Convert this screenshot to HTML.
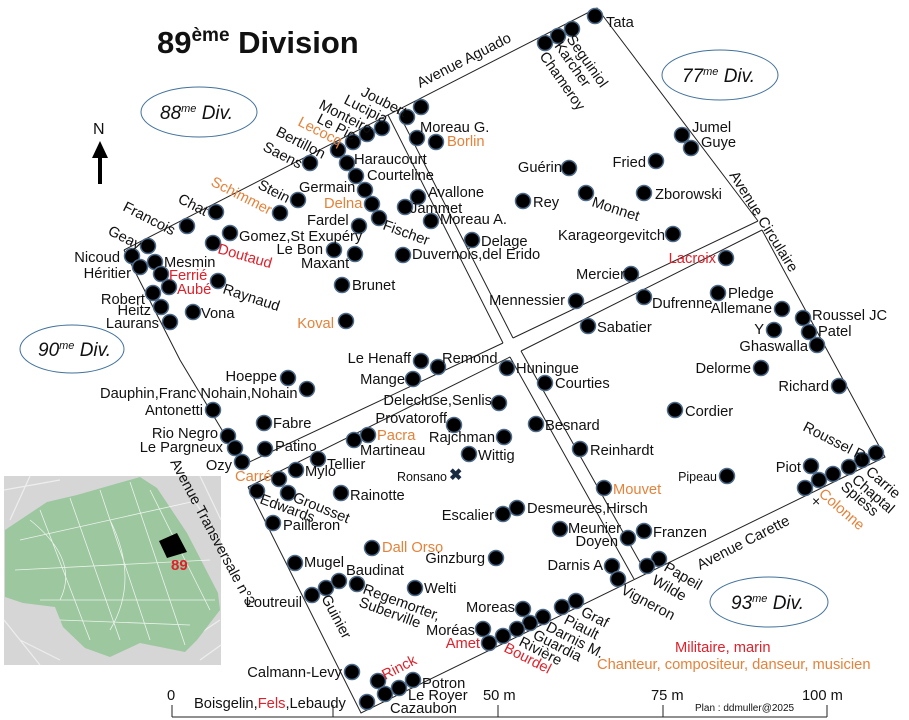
<!DOCTYPE html>
<html><head><meta charset="utf-8"><style>
html,body{margin:0;padding:0;background:#fff}
svg{display:block}
text{font-family:"Liberation Sans",Arial,sans-serif;font-size:14.7px;fill:#111}
.o{fill:#e5823a}.r{fill:#e0202a}
.d{fill:#000;stroke:#4d6a8a;stroke-width:1.5}
.l{stroke:#222;stroke-width:1;fill:none}
.rt{text-anchor:end}
</style></head><body>
<svg width="909" height="720" viewBox="0 0 909 720" xmlns="http://www.w3.org/2000/svg">
<rect width="909" height="720" fill="#fff"/>
<text x="157" y="53" style="font-size:31px;font-weight:bold">89<tspan dy="-12" style="font-size:19px">ème</tspan><tspan dy="12"> Division</tspan></text>
<text x="93" y="134" style="font-size:16px">N</text>
<rect x="98" y="154" width="4" height="30" fill="#000"/>
<polygon points="92,158 100,141 108,158" fill="#000"/>
<g fill="none" stroke="#41719c" stroke-width="1">
<ellipse cx="199" cy="112" rx="58" ry="25"/>
<ellipse cx="720" cy="75" rx="58" ry="25"/>
<ellipse cx="72" cy="349" rx="52" ry="24"/>
<ellipse cx="769" cy="602" rx="59" ry="25"/>
</g>
<text x="160" y="119" style="font-style:italic;font-size:19px">88<tspan dy="-7" style="font-size:11px">me</tspan><tspan dy="7"> Div.</tspan></text>
<text x="682" y="82" style="font-style:italic;font-size:19px">77<tspan dy="-7" style="font-size:11px">me</tspan><tspan dy="7"> Div.</tspan></text>
<text x="38" y="356" style="font-style:italic;font-size:19px">90<tspan dy="-7" style="font-size:11px">me</tspan><tspan dy="7"> Div.</tspan></text>
<text x="731" y="609" style="font-style:italic;font-size:19px">93<tspan dy="-7" style="font-size:11px">me</tspan><tspan dy="7"> Div.</tspan></text>
<rect x="4" y="476" width="217" height="189" fill="#d6d6d6"/>
<g stroke="#eee" stroke-width="1.2" fill="none"><path d="M4,490 L60,480 M10,520 L30,476 M4,620 L40,665 M20,640 L60,660 M190,640 L220,620 M200,660 L221,645 M180,480 L221,540 M200,476 L221,520"/></g>
<polygon points="5,530 47,502 77,495 140,477 157,488 187,533 218,593 220,610 197,640 185,652 140,643 110,657 85,648 63,627 55,607 23,603 5,597" fill="#9cc79f"/>
<g stroke="#fff" stroke-width="0.8" fill="none" opacity="0.8">
<path d="M40,510 L90,640 M70,498 L120,640 M100,490 L150,640 M130,482 L185,645 M20,540 L200,500 M15,570 L210,560 M40,600 L215,600 M60,620 L190,625 M150,490 L210,610 M30,520 Q80,560 60,600 M110,520 Q140,580 110,630"/>
</g>
<polygon points="159,541 177,533 187,552 167,558" fill="#000"/>
<text x="171" y="570" style="font-size:15px;font-weight:bold;fill:#e0202a">89</text>
<g class="l">
<path d="M124,250 L597,8 L758,221"/>
<path d="M762,230 L885,457 L361,713 L248,487"/>
<path d="M243,465 L180,360 L124,250"/>
<path d="M243,465 L503,343 M513,338 L758,221"/>
<path d="M248,487 L510,357 M521,351 L762,230"/>
<path d="M388,115 L503,343 M510,357 L634,579"/>
<path d="M397,110 L513,338 M521,351 L646,573"/>
</g>
<g class="d">
<circle cx="595" cy="16" r="7.5"/><circle cx="572" cy="29" r="7.5"/><circle cx="558" cy="36" r="7.5"/><circle cx="545" cy="43" r="7.5"/>
<circle cx="421" cy="107" r="7.5"/><circle cx="407" cy="117" r="7.5"/><circle cx="382" cy="128" r="7.5"/><circle cx="367" cy="134" r="7.5"/><circle cx="353" cy="142" r="7.5"/><circle cx="338" cy="150" r="7.5"/><circle cx="310" cy="163" r="7.5"/>
<circle cx="347" cy="163" r="7.5"/><circle cx="356" cy="176" r="7.5"/><circle cx="365" cy="190" r="7.5"/><circle cx="372" cy="204" r="7.5"/><circle cx="379" cy="218" r="7.5"/>
<circle cx="298" cy="200" r="7.5"/><circle cx="280" cy="213" r="7.5"/><circle cx="216" cy="212" r="7.5"/><circle cx="187" cy="226" r="7.5"/><circle cx="148" cy="246" r="7.5"/>
<circle cx="132" cy="256" r="7.5"/><circle cx="140" cy="267" r="7.5"/><circle cx="155" cy="262" r="7.5"/><circle cx="161" cy="274" r="7.5"/><circle cx="169" cy="287" r="7.5"/>
<circle cx="153" cy="293" r="7.5"/><circle cx="161" cy="307" r="7.5"/><circle cx="170" cy="322" r="7.5"/><circle cx="193" cy="312" r="7.5"/><circle cx="218" cy="281" r="7.5"/>
<circle cx="213" cy="243" r="7.5"/><circle cx="230" cy="233" r="7.5"/><circle cx="359" cy="226" r="7.5"/><circle cx="334" cy="250" r="7.5"/><circle cx="355" cy="254" r="7.5"/>
<circle cx="403" cy="255" r="7.5"/><circle cx="342" cy="285" r="7.5"/><circle cx="346" cy="321" r="7.5"/><circle cx="417" cy="138" r="7.5"/><circle cx="436" cy="142" r="7.5"/>
<circle cx="418" cy="197" r="7.5"/><circle cx="405" cy="207" r="7.5"/><circle cx="431" cy="221" r="7.5"/>
<circle cx="682" cy="135" r="7.5"/><circle cx="691" cy="148" r="7.5"/><circle cx="656" cy="161" r="7.5"/><circle cx="569" cy="168" r="7.5"/><circle cx="586" cy="193" r="7.5"/>
<circle cx="644" cy="193" r="7.5"/><circle cx="523" cy="201" r="7.5"/><circle cx="472" cy="240" r="7.5"/><circle cx="673" cy="234" r="7.5"/><circle cx="726" cy="258" r="7.5"/>
<circle cx="631" cy="274" r="7.5"/><circle cx="576" cy="301" r="7.5"/><circle cx="644" cy="297" r="7.5"/><circle cx="718" cy="293" r="7.5"/><circle cx="782" cy="309" r="7.5"/>
<circle cx="774" cy="330" r="7.5"/><circle cx="803" cy="318" r="7.5"/><circle cx="809" cy="332" r="7.5"/><circle cx="817" cy="345" r="7.5"/><circle cx="588" cy="326" r="7.5"/>
<circle cx="288" cy="378" r="7.5"/><circle cx="307" cy="389" r="7.5"/><circle cx="213" cy="410" r="7.5"/><circle cx="264" cy="423" r="7.5"/><circle cx="228" cy="436" r="7.5"/>
<circle cx="235" cy="448" r="7.5"/><circle cx="242" cy="462" r="7.5"/><circle cx="265" cy="449" r="7.5"/><circle cx="279" cy="479" r="7.5"/><circle cx="296" cy="470" r="7.5"/>
<circle cx="318" cy="459" r="7.5"/><circle cx="257" cy="491" r="7.5"/><circle cx="288" cy="493" r="7.5"/><circle cx="341" cy="493" r="7.5"/><circle cx="273" cy="523" r="7.5"/>
<circle cx="372" cy="548" r="7.5"/><circle cx="295" cy="563" r="7.5"/><circle cx="312" cy="595" r="7.5"/><circle cx="326" cy="588" r="7.5"/><circle cx="339" cy="581" r="7.5"/>
<circle cx="357" cy="584" r="7.5"/><circle cx="415" cy="588" r="7.5"/><circle cx="352" cy="672" r="7.5"/><circle cx="378" cy="681" r="7.5"/><circle cx="385" cy="694" r="7.5"/>
<circle cx="399" cy="688" r="7.5"/><circle cx="413" cy="680" r="7.5"/><circle cx="367" cy="702" r="7.5"/>
<circle cx="421" cy="361" r="7.5"/><circle cx="438" cy="367" r="7.5"/><circle cx="413" cy="379" r="7.5"/><circle cx="507" cy="368" r="7.5"/><circle cx="545" cy="383" r="7.5"/>
<circle cx="499" cy="403" r="7.5"/><circle cx="454" cy="425" r="7.5"/><circle cx="536" cy="424" r="7.5"/><circle cx="504" cy="437" r="7.5"/><circle cx="469" cy="454" r="7.5"/>
<circle cx="580" cy="449" r="7.5"/><circle cx="604" cy="488" r="7.5"/><circle cx="517" cy="508" r="7.5"/><circle cx="503" cy="514" r="7.5"/><circle cx="560" cy="529" r="7.5"/>
<circle cx="628" cy="538" r="7.5"/><circle cx="644" cy="531" r="7.5"/><circle cx="496" cy="558" r="7.5"/><circle cx="612" cy="566" r="7.5"/><circle cx="618" cy="579" r="7.5"/>
<circle cx="354" cy="440" r="7.5"/><circle cx="368" cy="435" r="7.5"/>
<circle cx="675" cy="410" r="7.5"/><circle cx="761" cy="368" r="7.5"/><circle cx="839" cy="386" r="7.5"/><circle cx="727" cy="476" r="7.5"/><circle cx="811" cy="466" r="7.5"/>
<circle cx="876" cy="453" r="7.5"/><circle cx="862" cy="460" r="7.5"/><circle cx="849" cy="467" r="7.5"/><circle cx="833" cy="474" r="7.5"/><circle cx="819" cy="480" r="7.5"/><circle cx="805" cy="488" r="7.5"/>
<circle cx="659" cy="559" r="7.5"/><circle cx="647" cy="566" r="7.5"/>
<circle cx="576" cy="601" r="7.5"/><circle cx="562" cy="607" r="7.5"/><circle cx="543" cy="617" r="7.5"/><circle cx="530" cy="623" r="7.5"/><circle cx="517" cy="629" r="7.5"/>
<circle cx="503" cy="636" r="7.5"/><circle cx="489" cy="643" r="7.5"/><circle cx="523" cy="609" r="7.5"/><circle cx="483" cy="629" r="7.5"/>
</g>
<text x="449" y="480" style="font-size:16px;font-weight:bold;fill:#1a2a40">✖</text>
<text x="812" y="506" style="font-size:14px">×</text>
<text transform="rotate(27 360 95)" x="360" y="95">Joubert</text>
<text transform="rotate(27 343 103)" x="343" y="103">Lucipia</text>
<text transform="rotate(27 318 108)" x="318" y="108">Monteiro</text>
<text transform="rotate(27 316 122)" x="316" y="122">Le Pic</text>
<text class="o" transform="rotate(27 297 125)" x="297" y="125">Lecocq</text>
<text transform="rotate(27 275 135)" x="275" y="135">Bertillon</text>
<text transform="rotate(27 262 150)" x="262" y="150">Saens</text>
<text transform="rotate(27 257 188)" x="257" y="188">Stein</text>
<text class="o" transform="rotate(27 210 185)" x="210" y="185">Schimmer</text>
<text transform="rotate(27 177 202)" x="177" y="202">Chat</text>
<text transform="rotate(27 122 210)" x="122" y="210">Francois</text>
<text transform="rotate(27 107 234)" x="107" y="234">Geay</text>
<text transform="rotate(55 566 39)" x="566" y="39">Seguiniol</text>
<text transform="rotate(55 554 46)" x="554" y="46">Karcher</text>
<text transform="rotate(55 539 56)" x="539" y="56">Chameroy</text>
<text transform="rotate(58 729 175)" x="729" y="175">Avenue Circulaire</text>
<text transform="rotate(62 170 462)" x="170" y="462">Avenue Transversale n°3</text>
<text transform="rotate(62 321 598)" x="321" y="598">Guinier</text>
<text transform="rotate(-27 420 88)" x="420" y="88">Avenue Aguado</text>
<text transform="rotate(-27 700 570)" x="700" y="570">Avenue Carette</text>
<text class="r" transform="rotate(-27 385 680)" x="385" y="680">Rinck</text>
<text transform="rotate(27 802 430)" x="802" y="430">Roussel R</text>
<text transform="rotate(41 865 473)" x="865" y="473">Carrie</text>
<text transform="rotate(41 851 481)" x="851" y="481">Chaptal</text>
<text transform="rotate(41 840 488)" x="840" y="488">Spiess</text>
<text class="o" transform="rotate(41 818 495)" x="818" y="495">Colonne</text>
<text transform="rotate(27 580 615)" x="580" y="615">Graf</text>
<text transform="rotate(27 563 623)" x="563" y="623">Piault</text>
<text transform="rotate(27 545 630)" x="545" y="630">Darnis M.</text>
<text transform="rotate(27 532 638)" x="532" y="638">Guardia</text>
<text transform="rotate(27 518 645)" x="518" y="645">Rivière</text>
<text class="r" transform="rotate(27 503 651)" x="503" y="651">Bourdel</text>
<text transform="rotate(28 620 593)" x="620" y="593">Vigneron</text>
<text transform="rotate(30 663 570)" x="663" y="570">Papeil</text>
<text transform="rotate(30 651 583)" x="651" y="583">Wilde</text>
<text transform="rotate(18 591 206)" x="591" y="206">Monnet</text>
<text transform="rotate(20 382 229)" x="382" y="229">Fischer</text>
<text class="r" transform="rotate(16 217 253)" x="217" y="253">Doutaud</text>
<text transform="rotate(18 222 293)" x="222" y="293">Raynaud</text>
<text transform="rotate(20 259 503)" x="259" y="503">Edwards</text>
<text transform="rotate(22 292 501)" x="292" y="501">Grousset</text>
<text transform="rotate(20 362 593)" x="362" y="593">Regemorter,</text>
<text transform="rotate(20 358 606)" x="358" y="606">Suberville</text>
<text x="606" y="27">Tata</text>
<text x="692" y="132">Jumel</text>
<text x="701" y="147">Guye</text>
<text class="rt" x="646" y="167">Fried</text>
<text class="rt" x="562" y="172">Guérin</text>
<text x="655" y="199">Zborowski</text>
<text x="533" y="207">Rey</text>
<text x="481" y="246">Delage</text>
<text x="412" y="259">Duvernois,del Erido</text>
<text class="rt" x="665" y="240">Karageorgevitch</text>
<text class="rt r" x="716" y="263">Lacroix</text>
<text class="rt" x="625" y="279">Mercier</text>
<text class="rt" x="565" y="305">Mennessier</text>
<text x="652" y="308">Dufrenne</text>
<text x="728" y="298">Pledge</text>
<text class="rt" x="772" y="313">Allemane</text>
<text class="rt" x="764" y="334">Y</text>
<text x="812" y="320">Roussel JC</text>
<text x="818" y="336">Patel</text>
<text class="rt" x="808" y="351">Ghaswalla</text>
<text x="597" y="332">Sabatier</text>
<text x="420" y="132">Moreau G.</text>
<text class="o" x="447" y="146">Borlin</text>
<text x="354" y="164">Haraucourt</text>
<text x="367" y="180">Courteline</text>
<text x="299" y="192">Germain</text>
<text class="o" x="324" y="208">Delna</text>
<text x="307" y="225">Fardel</text>
<text x="428" y="197">Avallone</text>
<text x="410" y="213">Jammet</text>
<text x="440" y="224">Moreau A.</text>
<text x="239" y="241">Gomez,St Exupéry</text>
<text class="rt" x="323" y="254">Le Bon</text>
<text x="301" y="268">Maxant</text>
<text x="352" y="290">Brunet</text>
<text class="rt o" x="334" y="328">Koval</text>
<text x="164" y="267">Mesmin</text>
<text class="r" x="169" y="280">Ferrié</text>
<text class="r" x="177" y="294">Aubé</text>
<text x="201" y="318">Vona</text>
<text class="rt" x="120" y="262">Nicoud</text>
<text class="rt" x="131" y="278">Héritier</text>
<text class="rt" x="145" y="304">Robert</text>
<text class="rt" x="151" y="315">Heitz</text>
<text class="rt" x="159" y="328">Laurans</text>
<text class="rt" x="277" y="381">Hoeppe</text>
<text x="100" y="398">Dauphin,Franc Nohain,Nohain</text>
<text class="rt" x="203" y="415">Antonetti</text>
<text x="273" y="428">Fabre</text>
<text class="rt" x="218" y="438">Rio Negro</text>
<text class="rt" x="223" y="452">Le Pargneux</text>
<text class="rt" x="232" y="470">Ozy</text>
<text x="275" y="451">Patino</text>
<text class="o" x="235" y="481">Carré</text>
<text x="327" y="469">Tellier</text>
<text x="305" y="476">Mylo</text>
<text x="350" y="500">Rainotte</text>
<text x="283" y="530">Pailleron</text>
<text class="o" x="382" y="552">Dall Orso</text>
<text x="304" y="567">Mugel</text>
<text x="346" y="575">Baudinat</text>
<text class="rt" x="302" y="607">Loutreuil</text>
<text x="424" y="593">Welti</text>
<text class="rt" x="342" y="677">Calmann-Levy</text>
<text x="422" y="688">Potron</text>
<text x="408" y="700">Le Royer</text>
<text x="390" y="713">Cazaubon</text>
<text x="194" y="708">Boisgelin,<tspan class="r">Fels</tspan>,Lebaudy</text>
<text class="rt" x="411" y="363">Le Henaff</text>
<text x="442" y="363">Remond</text>
<text class="rt" x="405" y="384">Mange</text>
<text x="516" y="373">Huningue</text>
<text x="555" y="388">Courties</text>
<text class="rt" x="492" y="405">Delecluse,Senlis</text>
<text class="rt" x="447" y="423">Provatoroff</text>
<text x="545" y="430">Besnard</text>
<text class="rt" x="495" y="442">Rajchman</text>
<text x="478" y="460">Wittig</text>
<text x="360" y="455">Martineau</text>
<text class="o" x="377" y="440">Pacra</text>
<text class="rt" x="447" y="481" style="font-size:12.5px">Ronsano</text>
<text x="590" y="455">Reinhardt</text>
<text class="o" x="613" y="494">Mouvet</text>
<text x="527" y="513">Desmeures,Hirsch</text>
<text class="rt" x="494" y="520">Escalier</text>
<text x="568" y="533">Meunier</text>
<text class="rt" x="618" y="546">Doyen</text>
<text x="653" y="537">Franzen</text>
<text class="rt" x="485" y="563">Ginzburg</text>
<text class="rt" x="603" y="570">Darnis A</text>
<text x="685" y="416">Cordier</text>
<text class="rt" x="751" y="373">Delorme</text>
<text class="rt" x="829" y="391">Richard</text>
<text class="rt" x="717" y="481" style="font-size:12.5px">Pipeau</text>
<text class="rt" x="801" y="472">Piot</text>
<text class="rt" x="515" y="612">Moreas</text>
<text class="rt" x="475" y="635">Moréas</text>
<text class="rt r" x="480" y="648">Amet</text>
<text class="r" x="675" y="652">Militaire, marin</text>
<text class="o" x="597" y="669">Chanteur, compositeur, danseur, musicien</text>
<g class="l"><path d="M172,717 L827,717 M172,705 L172,717 M333,705 L333,717 M498,705 L498,717 M663,705 L663,717 M827,705 L827,717"/></g>
<text x="167" y="700">0</text>
<text x="483" y="700">50 m</text>
<text x="651" y="700">75 m</text>
<text x="802" y="700">100 m</text>
<text x="695" y="711" style="font-size:10px">Plan : ddmuller@2025</text>
</svg>
</body></html>
